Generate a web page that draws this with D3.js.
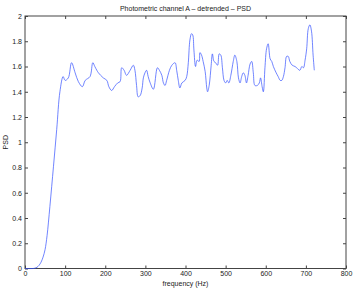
<!DOCTYPE html>
<html><head><meta charset="utf-8">
<script src="https://cdn.jsdelivr.net/npm/d3@7"></script>
<style>body{margin:0;background:#fff}svg{display:block}text{font-family:"Liberation Sans",Arial,sans-serif}</style>
</head><body>
<script>
const freq = [0,20,25,30,35,40,45,50,55,62,71,79,87,95,100,108,116,125,133,143,150,162,169,174,179,183,195,204,209,216,223,231,237,241,247,253,262,270,274,278,282,287,292,295,299,303,307,312,320,330,335,341,345,349,353,360,366,374,378,382,386,391,399,403,407,411,415,418,421,425,429,434,436,440,444,449,453,455,459,464,467,471,475,480,484,488,492,496,500,504,508,513,519,523,528,532,536,540,544,548,552,556,561,565,569,573,579,584,587,591,594,598,602,606,611,615,619,626,631,636,640,644,648,652,656,660,666,673,677,685,690,694,698,702,706,710,714,718,721];
const psd = [0,0,0.003,0.01,0.025,0.05,0.09,0.15,0.26,0.49,0.81,1.10,1.40,1.52,1.49,1.51,1.63,1.55,1.48,1.44,1.49,1.52,1.63,1.60,1.57,1.55,1.51,1.49,1.44,1.41,1.44,1.47,1.48,1.59,1.57,1.53,1.57,1.61,1.57,1.45,1.36,1.37,1.43,1.51,1.55,1.57,1.52,1.47,1.42,1.59,1.57,1.53,1.47,1.45,1.49,1.57,1.61,1.63,1.57,1.49,1.43,1.47,1.49,1.52,1.63,1.81,1.86,1.85,1.73,1.60,1.65,1.64,1.71,1.69,1.64,1.56,1.43,1.40,1.45,1.61,1.70,1.64,1.63,1.61,1.70,1.69,1.59,1.49,1.47,1.49,1.47,1.53,1.64,1.69,1.64,1.51,1.47,1.52,1.55,1.53,1.47,1.53,1.62,1.64,1.55,1.45,1.45,1.47,1.51,1.44,1.40,1.59,1.74,1.78,1.66,1.64,1.60,1.55,1.52,1.49,1.49,1.52,1.59,1.68,1.68,1.64,1.61,1.60,1.59,1.57,1.60,1.59,1.65,1.74,1.90,1.93,1.88,1.69,1.57];
const xTicks = [0,100,200,300,400,500,600,700,800];
const yTicks = [0,0.2,0.4,0.6,0.8,1,1.2,1.4,1.6,1.8,2];
const title = "Photometric channel A \u2013 detrended \u2013 PSD";
const xLabel = "frequency (Hz)";
const yLabel = "PSD";

const W = 354, H = 289;
const m = {l:25, r:8, t:16, b:20.5};
const svg = d3.select("body").append("svg").attr("width",W).attr("height",H);
const x = d3.scaleLinear().domain([0,800]).range([m.l, W-m.r]);
const y = d3.scaleLinear().domain([0,2]).range([H-m.b, m.t]);
const fs = 7;

svg.append("rect").attr("x",x(0)).attr("y",y(2)).attr("width",x(800)-x(0)).attr("height",y(0)-y(2))
  .attr("fill","none").attr("stroke","#444").attr("stroke-width",1);

const tl = 3;
const ax = d3.axisBottom(x).tickValues(xTicks).tickSize(-tl).tickPadding(3).tickFormat(d3.format("d"));
svg.append("g").attr("transform",`translate(0,${y(0)})`).call(ax);
const axT = d3.axisTop(x).tickValues(xTicks).tickSize(-tl).tickFormat("");
svg.append("g").attr("transform",`translate(0,${y(2)})`).call(axT);
const ay = d3.axisLeft(y).tickValues(yTicks).tickSize(-tl).tickPadding(3).tickFormat(d=>String(+d.toFixed(1)));
svg.append("g").attr("transform",`translate(${x(0)},0)`).call(ay);
const ayR = d3.axisRight(y).tickValues(yTicks).tickSize(-tl).tickFormat("");
svg.append("g").attr("transform",`translate(${x(800)},0)`).call(ayR);
svg.selectAll(".domain").remove();
svg.selectAll(".tick line").attr("stroke","#444");
svg.selectAll(".tick text").attr("font-size",fs).attr("fill","#222").style("font-family","Liberation Sans, Arial, sans-serif");

const line = d3.line().x((d,i)=>x(freq[i])).y(d=>y(d)).curve(d3.curveCatmullRom.alpha(0.5));
svg.append("path").datum(psd).attr("d",line).attr("fill","none").attr("stroke","#3350ff").attr("stroke-width",0.7);

svg.append("text").attr("x",(x(0)+x(800))/2).attr("y",11).attr("text-anchor","middle").attr("font-size",fs).attr("fill","#222").text(title);
svg.append("text").attr("x",(x(0)+x(800))/2).attr("y",H-3).attr("text-anchor","middle").attr("font-size",fs).attr("fill","#222").text(xLabel);
svg.append("text").attr("transform",`translate(8,${(y(0)+y(2))/2}) rotate(-90)`).attr("text-anchor","middle").attr("font-size",fs).attr("fill","#222").text(yLabel);
</script>
</body></html>
